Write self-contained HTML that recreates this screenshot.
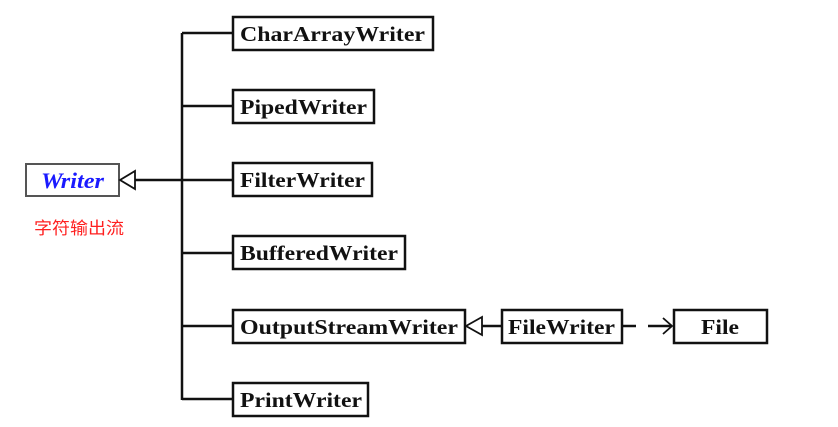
<!DOCTYPE html>
<html><head><meta charset="utf-8"><style>
body{margin:0;background:#fff;}
</style></head><body>
<svg width="838" height="427" xmlns="http://www.w3.org/2000/svg" style="display:block">
<g font-family="Liberation Serif, serif" font-weight="bold" font-size="21" fill="#111">
<g stroke="#111" stroke-width="2.5" fill="#fff">
<rect x="26" y="164" width="93" height="32" stroke="#555" stroke-width="2"/>
<rect x="233" y="17" width="200" height="33"/>
<rect x="233" y="90" width="141" height="33"/>
<rect x="233" y="163" width="139" height="33"/>
<rect x="233" y="236" width="172" height="33"/>
<rect x="233" y="310" width="232" height="33"/>
<rect x="233" y="383" width="135" height="33"/>
<rect x="502" y="310" width="120" height="33"/>
<rect x="674" y="310" width="93" height="33"/>
</g>
<g stroke="#111" stroke-width="2.5" fill="none">
<line x1="182" y1="33" x2="182" y2="400"/>
<line x1="182" y1="33" x2="233" y2="33"/>
<line x1="182" y1="106" x2="233" y2="106"/>
<line x1="135" y1="180" x2="233" y2="180"/>
<line x1="182" y1="253" x2="233" y2="253"/>
<line x1="182" y1="326" x2="233" y2="326"/>
<line x1="182" y1="399" x2="233" y2="399"/>
<polygon points="120,180 135,171 135,189" fill="#fff" stroke-width="1.8"/>
<line x1="482" y1="326" x2="502" y2="326"/>
<polygon points="466,326 482,317 482,335" fill="#fff" stroke-width="1.8"/>
<line x1="622" y1="326" x2="636" y2="326"/>
<line x1="648" y1="326" x2="672" y2="326"/>
<polyline points="663,318 672,326 663,334" stroke-width="1.8"/>
</g>
<text x="41" y="188" fill="#1a1aff" font-style="italic" font-size="22" textLength="63" lengthAdjust="spacingAndGlyphs">Writer</text>
<text x="240" y="41" textLength="185" lengthAdjust="spacingAndGlyphs">CharArrayWriter</text>
<text x="240" y="114" textLength="127" lengthAdjust="spacingAndGlyphs">PipedWriter</text>
<text x="240" y="187" textLength="125" lengthAdjust="spacingAndGlyphs">FilterWriter</text>
<text x="240" y="260" textLength="158" lengthAdjust="spacingAndGlyphs">BufferedWriter</text>
<text x="240" y="334" textLength="218" lengthAdjust="spacingAndGlyphs">OutputStreamWriter</text>
<text x="240" y="407" textLength="122" lengthAdjust="spacingAndGlyphs">PrintWriter</text>
<text x="508" y="334" textLength="107" lengthAdjust="spacingAndGlyphs">FileWriter</text>
<text x="701" y="334" textLength="38" lengthAdjust="spacingAndGlyphs">File</text>
</g>
<text x="34" y="234" font-family="Liberation Sans, Noto Sans CJK SC, sans-serif" font-size="17" fill="#ff2020" textLength="90" lengthAdjust="spacingAndGlyphs">字符输出流</text>
</svg>
</body></html>
